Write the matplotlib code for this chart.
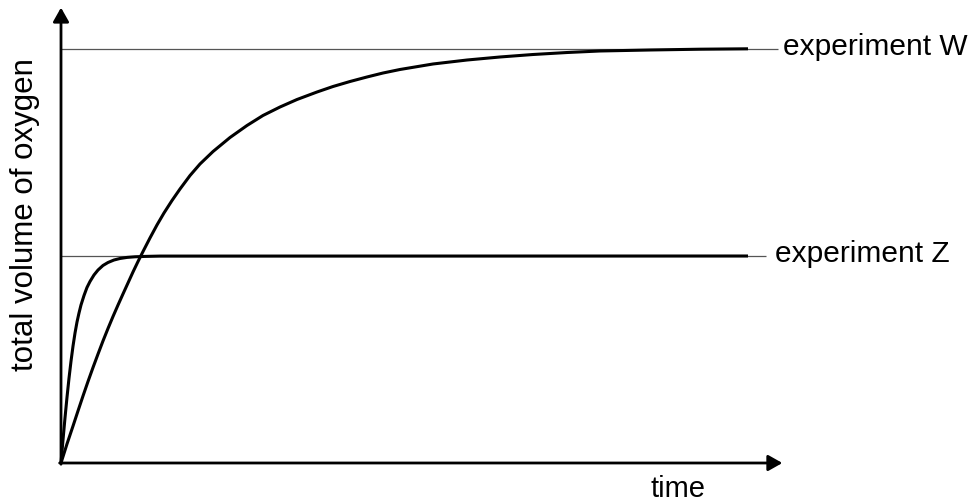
import matplotlib

matplotlib.use("Agg")
import matplotlib.pyplot as plt

plt.rcParams["font.family"] = ["Liberation Sans", "DejaVu Sans"]

# values (time in arbitrary units, volume as % of W's plateau)
w_time = [0, 0.087, 0.175, 0.247, 0.320, 0.393, 0.466, 0.539, 0.611, 0.684,
          0.757, 0.830, 0.902, 0.975, 1.048, 1.121, 1.194, 1.295, 1.397, 1.499,
          1.616, 1.732, 1.878, 2.023, 2.213, 2.460, 2.707, 2.940, 3.188, 3.435,
          3.726, 3.959, 4.207, 4.454, 4.687, 4.934, 5.415, 5.910, 6.390, 6.870,
          7.365, 7.845, 8.573, 9.301, 10.0]
w_volume = [0, 4.59, 8.94, 12.56, 16.18, 19.69, 23.07, 26.33, 29.47, 32.49,
            35.39, 38.16, 40.82, 43.48, 46.14, 48.67, 51.09, 54.35, 57.49, 60.39,
            63.41, 66.18, 69.44, 72.22, 75.24, 78.62, 81.52, 83.94, 85.99, 87.80,
            89.61, 90.94, 92.15, 93.24, 94.20, 95.05, 96.38, 97.34, 98.07, 98.67,
            99.15, 99.52, 99.76, 99.95, 100.05]

z_time = [0, 0.029, 0.058, 0.087, 0.116, 0.146, 0.175, 0.204, 0.233, 0.262,
          0.291, 0.335, 0.378, 0.422, 0.480, 0.539, 0.611, 0.684, 0.771, 0.859,
          0.961, 1.077, 1.223, 1.441, 10.0]
z_volume = [0, 5.56, 10.87, 15.82, 20.41, 24.64, 28.26, 31.40, 34.06, 36.23,
            38.16, 40.46, 42.39, 43.84, 45.41, 46.62, 47.71, 48.43, 49.03, 49.40,
            49.66, 49.81, 49.90, 49.98, 50.0]

plateaus = [100, 50]
plateau_ends = [10.44, 10.26]
labels = ["experiment W", "experiment Z"]
label_x = [10.51, 10.39]

fig = plt.figure(figsize=(9.73, 5.03), dpi=100)
ax = fig.add_axes([61 / 973, 40 / 503, 687 / 973, 414 / 503])
ax.set_xlim(0, 10)
ax.set_ylim(0, 100)
ax.axis("off")

# thin reference lines at each plateau, running out to the label
for level, end, text, lx in zip(plateaus, plateau_ends, labels, label_x):
    ax.plot([0, end], [level, level], color="#555555", lw=0.9, clip_on=False,
            solid_capstyle="butt", zorder=1)
    ax.text(lx, level + 0.6, text, ha="left", va="center", fontsize=21.5,
            color="black", clip_on=False)

for t, v in ((w_time, w_volume), (z_time, z_volume)):
    ax.plot(t, v, color="black", lw=2.2, clip_on=False, solid_capstyle="butt",
            solid_joinstyle="round", zorder=3)

# axes with arrowheads
arrow = dict(arrowstyle="-|>,head_length=0.85,head_width=0.48", color="black",
             lw=2.0, shrinkA=0, shrinkB=0, mutation_scale=10)
ax.annotate("", xy=(0, 110.0), xytext=(0, -0.3), arrowprops=arrow,
            annotation_clip=False)
ax.annotate("", xy=(10.50, 0), xytext=(-0.02, 0), arrowprops=arrow,
            annotation_clip=False)

ax.text(8.98, -6.3, "time", ha="center", va="center", fontsize=21)
ax.text(-0.524, 59.9, "total volume of oxygen", ha="center", va="center",
        rotation=90, fontsize=22.5)

fig.savefig("out.png", dpi=100)
